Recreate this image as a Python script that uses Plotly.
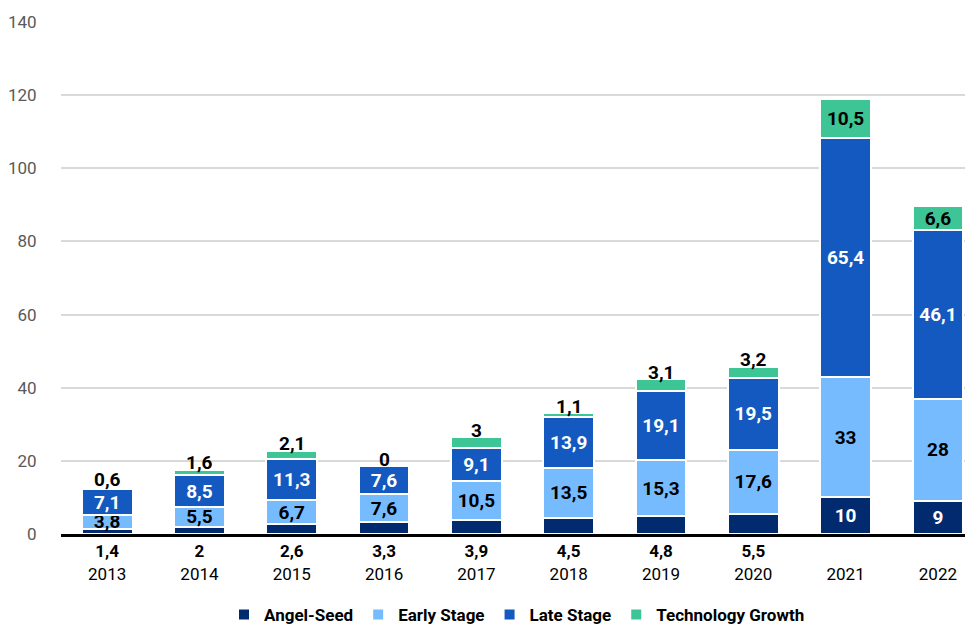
import plotly.graph_objects as go

years = ["2013", "2014", "2015", "2016", "2017", "2018", "2019", "2020", "2021", "2022"]
angel_seed = [1.4, 2, 2.6, 3.3, 3.9, 4.5, 4.8, 5.5, 10, 9]
early_stage = [3.8, 5.5, 6.7, 7.6, 10.5, 13.5, 15.3, 17.6, 33, 28]
late_stage = [7.1, 8.5, 11.3, 7.6, 9.1, 13.9, 19.1, 19.5, 65.4, 46.1]
tech_growth = [0.6, 1.6, 2.1, 0, 3, 1.1, 3.1, 3.2, 10.5, 6.6]

FONT = "Roboto, Liberation Sans, sans-serif"


def lbl(v):
    return f"{v:g}".replace(".", ",")


# angel-seed labels sit under the axis for the small bars, inside for the big ones
inside_angel = [v >= 9 for v in angel_seed]
tick_text = [
    f" <br>{y}" if big else f"<b>{lbl(v)}</b><br>{y}"
    for y, v, big in zip(years, angel_seed, inside_angel)
]
# small tech growth slices get their label just above the stack
inside_tech = [v > 5 for v in tech_growth]

series = [
    ("Angel-Seed", angel_seed, "#012b6e", "white",
     [lbl(v) if big else "" for v, big in zip(angel_seed, inside_angel)]),
    ("Early Stage", early_stage, "#77bbff", "black", [lbl(v) for v in early_stage]),
    ("Late Stage", late_stage, "#1359bf", "white", [lbl(v) for v in late_stage]),
    ("Technology Growth", tech_growth, "#3dc596", "black",
     [lbl(v) if big else "" for v, big in zip(tech_growth, inside_tech)]),
]

fig = go.Figure()
for name, vals, col, tcol, txt in series:
    fig.add_trace(go.Bar(
        x=years, y=vals, name=name, text=txt,
        textposition="inside", insidetextanchor="middle", constraintext="none",
        textfont=dict(color=tcol, size=19, family=FONT, weight="bold"),
        marker=dict(color=col, line=dict(color="white", width=2)),
        width=0.55, cliponaxis=False, hoverinfo="y+name",
    ))

totals = [a + b + c + d for a, b, c, d in zip(angel_seed, early_stage, late_stage, tech_growth)]
for i, (tot, v, big) in enumerate(zip(totals, tech_growth, inside_tech)):
    if not big:
        fig.add_annotation(
            x=i, y=tot, xref="x", yref="y", text="<b>" + lbl(v) + "</b>",
            showarrow=False, yanchor="middle", yshift=7,
            font=dict(color="black", size=19, family=FONT),
        )

# the page adds an 8px body margin, so the figure is sized to fit inside the window
fig.update_layout(
    barmode="stack",
    width=965, height=620,
    margin=dict(l=53, r=0, t=14, b=94, autoexpand=False),
    plot_bgcolor="white", paper_bgcolor="white",
    font=dict(family=FONT, size=17, color="black"),
    legend=dict(
        orientation="h", x=0.5, xanchor="center", y=-0.158, yanchor="middle",
        font=dict(size=17, weight="bold"), traceorder="normal", itemwidth=30,
    ),
)
fig.update_xaxes(
    type="category", range=[-0.5, 9.38], automargin=False,
    tickmode="array", tickvals=years, ticktext=tick_text,
    showline=True, linecolor="black", linewidth=3,
    ticks="", tickfont=dict(size=17, color="black"),
)
fig.update_yaxes(
    range=[0, 140], dtick=20, automargin=False,
    showgrid=True, gridcolor="#d9d9d9", gridwidth=1.5,
    zeroline=False, ticks="outside", ticklen=20, tickcolor="rgba(0,0,0,0)",
    tickfont=dict(size=17, color="#595959"),
)

fig.write_html("out.html")
